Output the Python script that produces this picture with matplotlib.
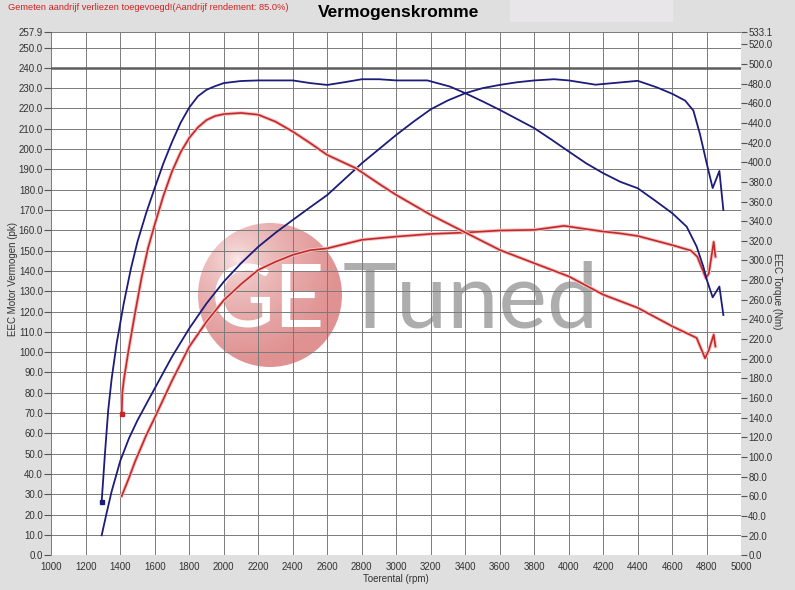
import numpy as np
import matplotlib
matplotlib.use('Agg')
import matplotlib.pyplot as plt
from matplotlib.patches import Circle, Rectangle

plt.rcParams['font.family'] = ['Liberation Sans', 'DejaVu Sans']

# ---------------- data ----------------
# blue: power (pk, left axis)
bp_rpm = [1292, 1320, 1350, 1400, 1450, 1500, 1600, 1700, 1800, 1900, 2000, 2100, 2200, 2300,
          2400, 2500, 2600, 2700, 2800, 2900, 3000, 3100, 3200, 3300, 3400, 3500, 3600, 3700,
          3800, 3915, 4000, 4155, 4296, 4400, 4510, 4600, 4674, 4722, 4760, 4800, 4834, 4873, 4896]
bp_pk = [9.8, 20.5, 31.5, 46.5, 57.5, 66.5, 82.2, 97.8, 111.7, 124.0, 134.7, 143.8, 151.9, 158.8,
         165.1, 171.3, 177.4, 185.2, 193.0, 200.0, 207.0, 213.5, 219.6, 224.0, 227.5, 230.0, 231.6, 232.9,
         233.8, 234.4, 233.8, 231.7, 232.8, 233.6, 230.4, 227.2, 223.9, 219.0, 207.5, 192.8, 180.8, 189.2, 170.0]
# blue: torque (Nm, right axis)
bt_rpm = [1292, 1311, 1330, 1350, 1379, 1420, 1462, 1500, 1550, 1600, 1650, 1700, 1750, 1800,
          1850, 1900, 1950, 2000, 2100, 2200, 2400, 2500, 2600, 2700, 2800, 2900, 3000, 3180,
          3310, 3400, 3500, 3600, 3700, 3800, 3900, 4000, 4100, 4200, 4300, 4400, 4500, 4600,
          4683, 4741, 4780, 4800, 4834, 4873, 4896]
bt_nm = [54.6, 103.4, 147.8, 179.8, 215.8, 256.3, 292.1, 319.4, 348.3, 374.1, 399.0, 420.7, 440.3, 455.8,
         467.2, 473.8, 477.5, 480.6, 482.7, 483.3, 483.3, 480.6, 478.7, 481.5, 484.5, 484.5, 483.3, 483.3,
         477.1, 470.3, 462.0, 453.3, 444.0, 434.7, 423.0, 410.9, 399.0, 388.8, 380.0, 373.5, 361.0, 348.1,
         334.5, 314.2, 293.7, 280.3, 262.5, 273.5, 244.5]
# red: power (pk, left axis)
rp_rpm = [1408, 1450, 1485, 1550, 1600, 1700, 1800, 1900, 2000, 2100, 2200, 2300, 2400, 2500,
          2600, 2800, 3000, 3200, 3400, 3600, 3800, 3973, 4068, 4200, 4296, 4400, 4600, 4708,
          4745, 4795, 4812, 4840, 4850]
rp_pk = [29.1, 38.0, 46.0, 59.0, 67.8, 86.0, 102.7, 115.0, 125.6, 133.5, 140.5, 144.5, 147.9, 150.2,
         151.1, 155.3, 156.9, 158.2, 158.9, 159.9, 160.2, 162.2, 161.0, 159.4, 158.5, 157.2, 152.7, 150.0,
         147.0, 136.4, 138.8, 154.3, 147.0]
# red: torque (Nm, right axis)
rt_rpm = [1408, 1412, 1420, 1446, 1485, 1524, 1560, 1600, 1650, 1700, 1750, 1800, 1850, 1900,
          1950, 2000, 2100, 2200, 2300, 2400, 2500, 2600, 2765, 2909, 3000, 3200, 3400, 3600,
          3800, 4000, 4200, 4400, 4600, 4741, 4790, 4812, 4840, 4850]
rt_nm = [143.7, 165.4, 177.8, 206.7, 246.0, 283.2, 312.1, 336.9, 365.9, 390.7, 410.3, 424.8, 435.5, 443.0,
         447.1, 449.0, 450.2, 448.4, 441.3, 431.2, 419.6, 407.4, 394.0, 377.0, 366.7, 346.4, 328.5, 310.7,
         297.2, 283.8, 265.2, 251.8, 233.0, 221.2, 200.5, 208.8, 224.5, 212.5]

x_ticks = list(range(1000, 5001, 200))
left_ticks = [float(v) for v in range(0, 251, 10)] + [257.9]
right_ticks = [float(v) for v in range(0, 521, 20)] + [533.1]
marker_level = 240.0

title = 'Vermogenskromme'
note = 'Gemeten aandrijf verliezen toegevoegd!(Aandrijf rendement: 85.0%)'
xlabel = 'Toerental (rpm)'
ylabel_left = 'EEC Motor Vermogen (pk)'
ylabel_right = 'EEC Torque (Nm)'

# ---------------- figure ----------------
W, H = 795, 590
fig = plt.figure(figsize=(W / 100, H / 100), dpi=100, facecolor='#dfdfdf')

def px(x0, y0, x1, y1):
    return [x0 / W, 1 - y1 / H, (x1 - x0) / W, (y1 - y0) / H]

fig.patches.append(Rectangle((510 / W, 1 - 22 / H), 163 / W, 22 / H, transform=fig.transFigure,
                             facecolor='#e8e6e8', edgecolor='none', zorder=0))

L, R, T, B = 51.3, 741.3, 31.5, 555.2
pos = px(L, T, R, B)

ax_bg = fig.add_axes(pos, zorder=0)
ax_bg.set_facecolor('white')
ax_bg.set_xticks([]); ax_bg.set_yticks([])
for s in ax_bg.spines.values():
    s.set_visible(False)

# watermark logo
lax = fig.add_axes(px(198, 223, 342, 367), zorder=0.5)
lax.set_xlim(-1, 1); lax.set_ylim(-1, 1); lax.axis('off')
gx, gy = np.meshgrid(np.linspace(-1, 1, 300), np.linspace(1, -1, 300))
d = np.clip(np.sqrt((gx + 0.45) ** 2 + (gy - 0.5) ** 2) / 1.45, 0, 1) ** 0.5
c0 = np.array([0.99, 0.95, 0.95]); c1 = np.array([0.88, 0.57, 0.57])
img = c0[None, None, :] * (1 - d[..., None]) + c1[None, None, :] * d[..., None]
im = lax.imshow(img, extent=[-1, 1, -1, 1], zorder=1)
circ = Circle((0, 0), 1, transform=lax.transData, facecolor='none', edgecolor='none')
lax.add_patch(circ)
im.set_clip_path(circ)

fig.text(268 / W, 1 - 327 / H, 'GE', fontsize=63, color='white', family='Lato',
         ha='center', va='baseline', zorder=0.6)
fig.text(343 / W, 1 - 328 / H, 'Tuned', fontsize=66, color='#adadad', family='Lato',
         ha='left', va='baseline', zorder=0.6)

ax = fig.add_axes(pos, zorder=1)
ax.set_facecolor('none')
ax2 = ax.twinx()
ax2.set_zorder(2)
ax2.patch.set_visible(False)

ax.set_xlim(1000, 5000)
ax.set_ylim(0, 257.9)
ax2.set_ylim(0, 533.1)

ax.set_xticks(x_ticks)
ax.set_xticklabels([str(v) for v in x_ticks])
ax.set_yticks(left_ticks)
ax.set_yticklabels([f'{v:.1f}' for v in left_ticks])
ax2.set_yticks(right_ticks)
ax2.set_yticklabels([f'{v:.1f}' for v in right_ticks])

ax.grid(True, color='#7a7a7a', linewidth=0.7)
ax.axhline(marker_level, color='#5e5e5e', linewidth=1.8, zorder=1.6)

for a in (ax, ax2):
    for s in a.spines.values():
        s.set_visible(False)
ax.tick_params(axis='x', length=0, pad=5, labelsize=7, labelcolor='#333333')
ax.tick_params(axis='y', direction='out', length=5, width=0.8, color='#555555', pad=1,
               labelsize=7, labelcolor='#333333')
ax2.tick_params(axis='y', direction='out', length=4, width=0.8, color='#555555', pad=1,
                labelsize=7, labelcolor='#333333')

blue = '#1c1c7a'
red = '#c42828'
halo = '#f3c2c2'
ax.plot(rp_rpm, rp_pk, color=halo, lw=2.6, zorder=2)
ax.plot(rp_rpm, rp_pk, color=red, lw=1.2, zorder=2.1)
ax.plot(bp_rpm, bp_pk, color=blue, lw=1.3, zorder=2.2)
ax2.plot(rt_rpm, rt_nm, color=halo, lw=2.6, zorder=2)
ax2.plot(rt_rpm, rt_nm, color=red, lw=1.2, zorder=2.1, marker='s', markersize=2.5, markevery=[0])
ax2.plot(bt_rpm, bt_nm, color=blue, lw=1.3, zorder=2.2, marker='s', markersize=2.5, markevery=[0])

fig.text(396 / W, 1 - 579 / H, xlabel, fontsize=7, color='#333333', ha='center', va='center')
fig.text(13 / W, 1 - 279 / H, ylabel_left, fontsize=7, color='#333333', ha='center', va='center', rotation=90)
fig.text(777 / W, 1 - 291 / H, ylabel_right, fontsize=7, color='#333333', ha='center', va='center', rotation=270)
fig.text(399 / W, 1 - 12 / H, title, fontsize=12.5, weight='bold', color='black', ha='center', va='center')
fig.text(8 / W, 1 - 8 / H, note, fontsize=6.7, color='#d42020', ha='left', va='center')

fig.savefig('out.png', dpi=100, facecolor=fig.get_facecolor())
